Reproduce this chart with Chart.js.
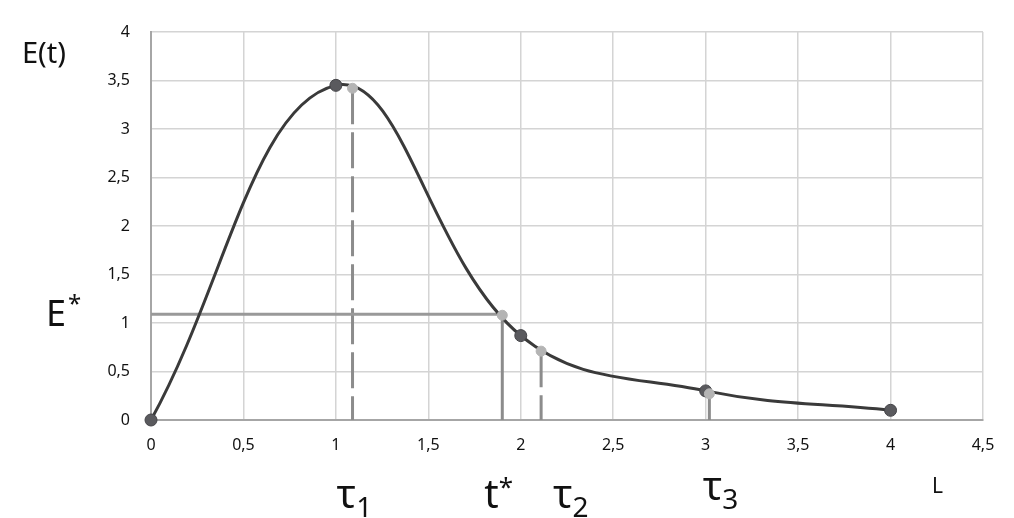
<!DOCTYPE html>
<html>
<head>
<meta charset="utf-8">
<script src="https://cdn.jsdelivr.net/npm/chart.js@4/dist/chart.umd.min.js"></script>
<style>
  body { margin: 0; background: #fff; }
</style>
</head>
<body>
<canvas id="grafica" width="1014" height="518"></canvas>
<script>
// curva principal E(t)
var curvaX = [0, 1, 2, 3, 4];
var curvaY = [0, 3.45, 0.87, 0.3, 0.1];
// puntos marcados (tau1, t*, tau2, tau3)
var puntosX = [1.09, 1.9, 2.11, 3.02];
var puntosY = [3.42, 1.08, 0.71, 0.27];
var eEstrella = 1.09;
// etiquetas bajo el eje
var etiquetas = ["τ|1", "t|*", "τ|2", "τ|3"];
var etiquetasX = [1.1, 1.88, 2.27, 3.08];

function pares(xs, ys) {
  return xs.map(function (x, i) { return { x: x, y: ys[i] }; });
}

var lineasVerticales = puntosX.map(function (x, i) {
  var discontinua = (i === 0 || i === 2);
  return {
    data: [{ x: x, y: puntosY[i] }, { x: x, y: 0 }],
    borderColor: '#8c8c8c',
    borderWidth: 3,
    borderDash: discontinua ? [36, 8] : [],
    pointRadius: 0,
    order: 3
  };
});

var textos = {
  id: 'textos',
  afterDraw: function (chart) {
    var ctx = chart.ctx;
    var xs = chart.scales.x;
    var f = '"Noto Sans", sans-serif';
    ctx.save();
    ctx.fillStyle = '#111';
    ctx.textBaseline = 'alphabetic';
    ctx.textAlign = 'left';
    ctx.font = '29px ' + f;
    ctx.fillText('E(t)', 22, 63);
    ctx.font = '36px ' + f;
    ctx.fillText('E', 46, 326);
    ctx.font = '24px ' + f;
    ctx.fillText('*', 68, 312);
    ctx.font = '21px ' + f;
    ctx.fillText('L', 932, 493);
    etiquetas.forEach(function (t, i) {
      var partes = t.split('|');
      var base = i === 3 ? 500 : 508;
      ctx.font = '40px ' + f;
      var w1 = ctx.measureText(partes[0]).width;
      var sup = partes[1] === '*';
      ctx.font = (sup ? '26px ' : '28px ') + f;
      var w2 = ctx.measureText(partes[1]).width;
      var x0 = xs.getPixelForValue(etiquetasX[i]) - (w1 + w2) / 2;
      ctx.font = '40px ' + f;
      ctx.fillText(partes[0], x0, base);
      ctx.font = (sup ? '26px ' : '28px ') + f;
      ctx.fillText(partes[1], x0 + w1, sup ? base - 12 : base + 9);
    });
    ctx.restore();
  }
};

var ctxGrafica = document.getElementById('grafica');
var grafica = new Chart(ctxGrafica, {
  type: 'line',
  data: {
    datasets: [
      {
        data: pares(puntosX, puntosY),
        showLine: false,
        pointRadius: 5,
        pointBackgroundColor: '#b4b4b4',
        pointBorderColor: '#b4b4b4',
        order: 0,
        clip: false
      },
      {
        data: pares(curvaX, curvaY),
        borderColor: '#3a3a3a',
        borderWidth: 3,
        tension: 0.4,
        pointRadius: 6,
        pointBackgroundColor: '#5a5a5e',
        pointBorderColor: '#444448',
        pointBorderWidth: 1,
        order: 1,
        clip: false
      },
      {
        data: [{ x: 0, y: eEstrella }, { x: puntosX[1], y: eEstrella }],
        borderColor: '#999999',
        borderWidth: 3,
        pointRadius: 0,
        order: 2
      }
    ].concat(lineasVerticales)
  },
  options: {
    responsive: false,
    animation: false,
    layout: { padding: { left: 0, right: 31, top: 32, bottom: 0 } },
    plugins: { legend: { display: false }, tooltip: { enabled: false } },
    scales: {
      x: {
        type: 'linear',
        min: 0,
        max: 4.5,
        afterFit: function (s) { s.height = 98; },
        ticks: {
          stepSize: 0.5,
          padding: 16,
          color: '#111',
          font: { family: '"Noto Sans", sans-serif', size: 16 },
          callback: function (v) { return String(v).replace('.', ','); }
        },
        grid: { color: '#d4d4d4', lineWidth: 1.5, drawTicks: false },
        border: { color: '#a6a6a6', width: 2 }
      },
      y: {
        min: 0,
        max: 4,
        afterFit: function (s) { s.width = 151; },
        ticks: {
          stepSize: 0.5,
          padding: 21,
          color: '#111',
          font: { family: '"Noto Sans", sans-serif', size: 16 },
          callback: function (v) { return String(v).replace('.', ','); }
        },
        grid: { color: '#d4d4d4', lineWidth: 1.5, drawTicks: false },
        border: { color: '#a6a6a6', width: 2 }
      }
    }
  },
  plugins: [textos]
});
</script>
</body>
</html>
